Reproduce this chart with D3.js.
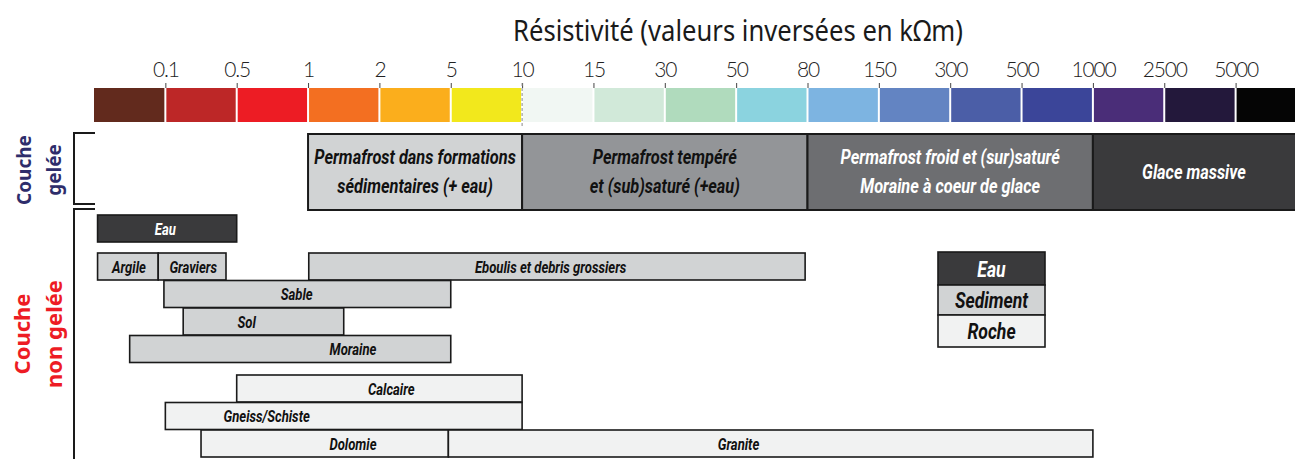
<!DOCTYPE html>
<html>
<head>
<meta charset="utf-8">
<script src="https://cdn.jsdelivr.net/npm/d3@7"></script>
<style>
  html, body { margin: 0; padding: 0; background: #fff; }
  svg { display: block; }
  .cond { font-family: "Roboto", "Noto Sans", sans-serif; font-weight: bold; font-style: italic; }
</style>
</head>
<body>
<svg id="chart" width="1295" height="459"></svg>
<script>
// Resistivity class boundaries (kΩm) shown above the colour bar
const tickValues = [0.1, 0.5, 1, 2, 5, 10, 15, 30, 50, 80, 150, 300, 500, 1000, 2500, 5000];
const tickLabels = ["0.1", "0.5", "1", "2", "5", "10", "15", "30", "50", "80", "150", "300", "500", "1000", "2500", "5000"];
// one colour per class, from low to high resistivity
const binColors = ["#622a1d", "#bd2727", "#ed1c24", "#f36f21", "#fbae1c", "#f2e81c",
                   "#f1f7f3", "#d1e9d9", "#b0dbbd", "#8bd3df", "#7db4e1", "#6384c2",
                   "#4b5ea7", "#3b4599", "#4a2d78", "#23183b", "#050505"];

// frozen layer ranges
const frozenNames = [["Permafrost dans formations", "sédimentaires (+ eau)"],
                     ["Permafrost tempéré", "et (sub)saturé (+eau)"],
                     ["Permafrost froid et (sur)saturé", "Moraine à coeur de glace"],
                     ["Glace massive"]];
const frozenLo = [1, 10, 80, 1000];
const frozenHi = [10, 80, 1000, 10000];
const frozenKind = ["light", "mid", "dark", "ice"];

// unfrozen materials: resistivity range, material type, label anchor, row
const matNames = ["Eau", "Argile", "Graviers", "Eboulis et debris grossiers", "Sable", "Sol",
                  "Moraine", "Calcaire", "Gneiss/Schiste", "Dolomie", "Granite"];
const matLo = [0.005, 0.005, 0.09, 1.01, 0.098, 0.2, 0.05, 0.5, 0.1, 0.3, 4.9];
const matHi = [0.5, 0.09, 0.44, 79, 5, 1.5, 5, 10, 10, 4.9, 1000];
const matType = ["Eau", "Sediment", "Sediment", "Sediment", "Sediment", "Sediment",
                 "Sediment", "Roche", "Roche", "Roche", "Roche"];
const matLabelAt = [0.1, 0.049, 0.256, 12, 0.92, 0.57, 1.63, 2.5, 0.71, 1.63, 51];
const matRow = [0, 1, 1, 1, 2, 3, 4, 5, 6, 7, 7];

const legendNames = ["Eau", "Sediment", "Roche"];

const svg = d3.select("#chart");

// piecewise scale: every resistivity class gets the same width
const bounds = [0, ...tickValues, 10000];
const x0 = 94, step = 71.35;
const x = d3.scaleLinear().domain(bounds).range(bounds.map((d, i) => x0 + i * step));

const typeFill = { Eau: "#3a3a3c", Sediment: "#d1d3d4", Roche: "#f1f2f2" };
const typeText = { Eau: "#fff", Sediment: "#111", Roche: "#111" };
const frozenFill = { light: "#d1d3d4", mid: "#939598", dark: "#6d6e71", ice: "#3a3a3c" };
const frozenText = { light: "#111", mid: "#111", dark: "#fff", ice: "#fff" };

// condensed bold italic label, squeezed horizontally around its anchor
function condText(sel, cx, y, size, fill, text, sx) {
  return sel.append("text").attr("class", "cond")
    .attr("transform", `translate(${cx},${y}) scale(${sx || 0.8},1)`)
    .attr("text-anchor", "middle")
    .style("font-size", size + "px")
    .attr("fill", fill)
    .text(text);
}

// title
svg.append("text")
  .attr("x", 738).attr("y", 41)
  .attr("text-anchor", "middle")
  .style("font-family", "'Noto Sans', sans-serif")
  .style("font-size", "29px")
  .attr("textLength", 450).attr("lengthAdjust", "spacingAndGlyphs")
  .attr("fill", "#1a1a1a")
  .text("Résistivité (valeurs inversées en kΩm)");

// colour bar
const barTop = 88, barH = 34;
svg.append("g").selectAll("rect")
  .data(binColors)
  .join("rect")
  .attr("x", (d, i) => x(bounds[i]) + (i === 0 ? 0 : 1))
  .attr("width", (d, i) => x(bounds[i + 1]) - x(bounds[i]) - (i === 0 ? 1 : 2))
  .attr("y", barTop).attr("height", barH)
  .attr("fill", d => d);

// axis with the class boundaries
const axis = d3.axisTop(x).tickValues(tickValues)
  .tickFormat((d, i) => tickLabels[i]).tickSize(5).tickPadding(6);
const ag = svg.append("g").attr("transform", `translate(0,${barTop})`).call(axis);
ag.select(".domain").remove();
ag.selectAll(".tick line").attr("stroke", "#444").attr("stroke-width", 1);
ag.selectAll(".tick text")
  .style("font-family", "'Lato', 'DejaVu Sans', sans-serif")
  .style("font-weight", "300")
  .style("font-size", "21px")
  .style("letter-spacing", "-1.2px")
  .attr("fill", "#222");

// dashed marker at 10 kΩm
svg.append("line")
  .attr("x1", x(10)).attr("x2", x(10))
  .attr("y1", barTop - 5).attr("y2", barTop + barH + 6)
  .attr("stroke", "#888").attr("stroke-width", 1).attr("stroke-dasharray", "3,2");

// frozen layer boxes
const fTop = 134, fH = 76;
const fg = svg.append("g").selectAll("g")
  .data(frozenNames.map((n, i) => ({ n, lo: frozenLo[i], hi: frozenHi[i], k: frozenKind[i] })))
  .join("g");
fg.append("rect")
  .attr("x", d => x(d.lo)).attr("width", d => Math.min(x(d.hi), 1296) - x(d.lo))
  .attr("y", fTop).attr("height", fH)
  .attr("fill", d => frozenFill[d.k])
  .attr("stroke", "#1a1a1a").attr("stroke-width", 2);
fg.each(function (d) {
  const g = d3.select(this);
  const cx = (x(d.lo) + Math.min(x(d.hi), 1295)) / 2;
  d.n.forEach((ln, j) => {
    const y = d.n.length === 1 ? fTop + fH / 2 + 7 : fTop + 30 + j * 29;
    condText(g, cx, y, 20, frozenText[d.k], ln, 0.82);
  });
});

// brackets on the left
const br = svg.append("g").attr("fill", "none").attr("stroke", "#1a1a1a").attr("stroke-width", 2);
br.append("path").attr("d", "M95,133 H74 V204 H95");
br.append("path").attr("d", "M95,209 H74 V460");

// side labels
function sideLabel(lines, cy, color, size, xs) {
  lines.forEach((ln, j) => {
    svg.append("text")
      .attr("transform", `translate(${xs[j]},${cy}) rotate(-90)`)
      .attr("text-anchor", "middle")
      .style("font-family", "'Noto Sans', 'Open Sans', sans-serif")
      .style("font-weight", "bold")
      .style("font-size", size + "px")
      .attr("fill", color)
      .text(ln);
  });
}
sideLabel(["Couche", "gelée"], 170, "#2e2d6b", 19, [31, 61]);
sideLabel(["Couche", "non gelée"], 334, "#ed1c24", 22, [30, 62]);

// unfrozen material bars
const rowY = r => 215 + r * 27.5 + (r === 0 ? 0 : r < 5 ? 10.5 : 22.5);
const rowH = 27;
const mats = matNames.map((n, i) => ({ n, lo: matLo[i], hi: matHi[i], t: matType[i], at: matLabelAt[i], r: matRow[i] }));
const mg = svg.append("g").selectAll("g").data(mats).join("g");
mg.append("rect")
  .attr("x", d => x(d.lo)).attr("width", d => x(d.hi) - x(d.lo))
  .attr("y", d => rowY(d.r)).attr("height", rowH)
  .attr("fill", d => typeFill[d.t])
  .attr("stroke", "#1a1a1a").attr("stroke-width", 1.6);
mg.each(function (d) {
  condText(d3.select(this), x(d.at), rowY(d.r) + rowH / 2 + 6, 17, typeText[d.t], d.n, 0.77);
});

// legend
const lx = 938, lw = 107, ly = 252, lh = [33, 30, 32];
let yy = ly;
const lg = svg.append("g");
legendNames.forEach((n, i) => {
  lg.append("rect").attr("x", lx).attr("y", yy).attr("width", lw).attr("height", lh[i])
    .attr("fill", typeFill[n]).attr("stroke", "#1a1a1a").attr("stroke-width", 1.6);
  condText(lg, lx + lw / 2, yy + lh[i] / 2 + 8, 22, typeText[n], n, 0.8);
  yy += lh[i];
});
</script>
</body>
</html>
